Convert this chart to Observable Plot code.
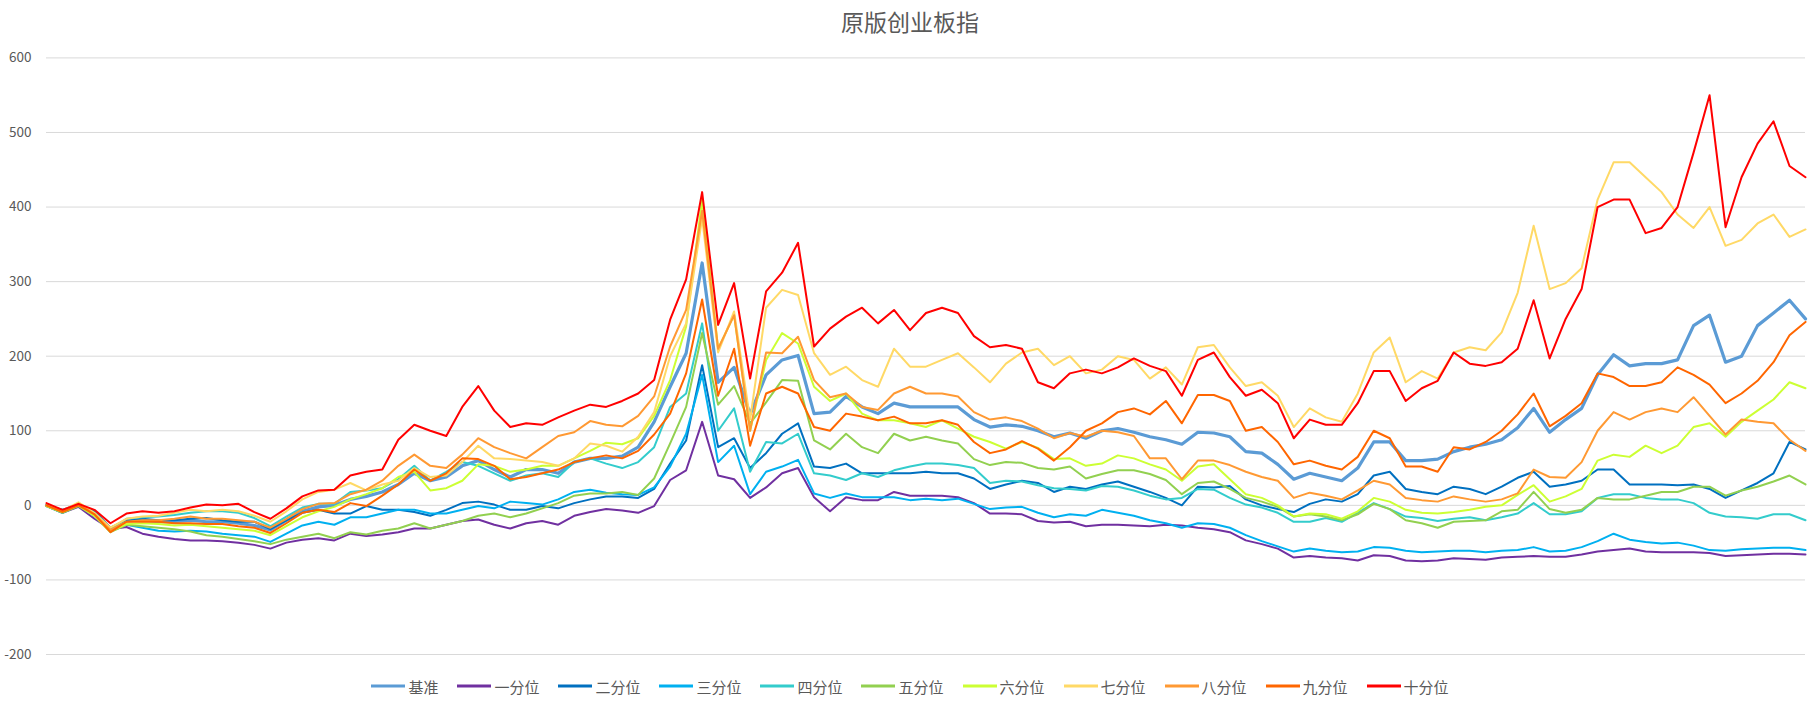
<!DOCTYPE html>
<html>
<head>
<meta charset="utf-8">
<script src="https://cdn.jsdelivr.net/npm/d3@7"></script>
<script src="https://cdn.jsdelivr.net/npm/@observablehq/plot@0.6"></script>
<style>
  html, body { margin: 0; padding: 0; background: #fff; }
  body { width: 1820px; height: 704px; overflow: hidden; font-family: "Noto Sans CJK SC", "Noto Sans", sans-serif; color: #595959; }
  #title { height: 40px; box-sizing: border-box; padding-top: 10px; font-size: 23px; line-height: 23px; text-align: center; }
  #legend { height: 24px; display: flex; justify-content: center; align-items: center; font-size: 15px; margin-top: 0px; }
  .item { display: flex; align-items: center; margin: 0 9.5px; }
  .item svg { margin-right: 3px; }
</style>
</head>
<body>
<div id="title">原版创业板指</div>
<div id="chart"></div>
<div id="legend"></div>
<script>
// Series names, colours and axis ticks
const seriesNames = ["基准", "一分位", "二分位", "三分位", "四分位", "五分位", "六分位", "七分位", "八分位", "九分位", "十分位"];
const seriesColors = ["#5B9BD5", "#7030A0", "#0070C0", "#00B0F0", "#33CCCC", "#92D050", "#CCFF33", "#FFD966", "#FF9933", "#FF6600", "#FF0000"];
const yTicks = [-200, -100, 0, 100, 200, 300, 400, 500, 600];

// Cumulative return (%) per sample step, one array per series
const benchmark = [0, -8, 1, -11, -33, -20, -20, -22, -22, -20, -22, -22, -24, -27, -33, -20, -8, -2,
  0, 8, 12, 18, 28, 43, 33, 38, 53, 60, 48, 38, 48, 48, 43, 58, 63, 63,
  66, 78, 112, 159, 204, 325, 165, 185, 122, 175, 195, 201, 123, 125, 146, 132, 123, 137, 132, 132, 132, 132,
  115, 105, 108, 106, 100, 92, 97, 90, 100, 103, 98, 92, 88, 82, 98, 97,
  92, 72, 70, 55, 35, 43, 38, 33, 50, 85, 85, 60, 60, 62, 72, 78, 82, 88, 104,
  130, 98, 115, 130, 175, 202, 187, 190, 190, 195, 241, 255, 192, 200, 241, 258, 275, 250];
const decile1 = [-1, -10, -2, -18, -32, -29, -38, -42, -45, -47, -47, -48, -50, -53, -58, -50, -46, -44,
  -47, -38, -41, -39, -36, -31, -31, -26, -21, -19, -26, -31, -24, -21, -26, -14, -9, -5,
  -7, -10, -1, 34, 47, 112, 40, 35, 10, 24, 43, 50, 11, -8, 11, 7, 7, 18, 13, 13, 13, 11,
  3, -11, -11, -12, -21, -23, -22, -28, -26, -26, -27, -28, -26, -27, -30, -32,
  -36, -47, -52, -58, -70, -68, -70, -71, -74, -67, -68, -74, -75, -74, -71, -72, -73, -70, -69,
  -68, -69, -69, -66, -62, -60, -58, -62, -63, -63, -63, -64, -68, -67, -66, -65, -65, -66];
const decile2 = [0, -6, 2, -8, -30, -20, -18, -20, -20, -18, -17, -20, -22, -22, -32, -20, -10, -6,
  -11, -11, -1, -6, -6, -9, -14, -6, 3, 5, 1, -6, -6, -1, -4, 3, 8, 12,
  12, 10, 22, 56, 87, 188, 78, 90, 50, 70, 96, 110, 52, 50, 56, 43, 43, 43, 43, 45, 43, 43,
  36, 22, 28, 33, 30, 18, 25, 22, 28, 32, 25, 18, 10, 0, 25, 24,
  26, 8, 0, -5, -9, 2, 8, 5, 15, 40, 45, 22, 18, 15, 25, 22, 15, 25, 37,
  45, 25, 28, 33, 48, 48, 28, 28, 28, 27, 28, 22, 10, 20, 30, 43, 85, 75];
const decile3 = [-1, -10, 0, -14, -34, -26, -30, -34, -35, -34, -35, -38, -40, -42, -49, -38, -27, -22,
  -26, -16, -16, -11, -6, -6, -11, -11, -6, -1, -4, 5, 3, 1, 8, 18, 21, 17,
  15, 14, 24, 52, 96, 175, 58, 80, 15, 45, 52, 61, 16, 10, 16, 11, 11, 11, 7, 9, 7, 9,
  2, -5, -3, -2, -10, -16, -12, -14, -6, -10, -14, -20, -24, -30, -24, -25,
  -30, -40, -48, -55, -62, -58, -61, -63, -62, -56, -57, -61, -63, -62, -61, -61, -63, -61, -60,
  -56, -62, -61, -56, -48, -38, -46, -49, -51, -50, -54, -60, -61, -59, -58, -57, -57, -60];
const decile4 = [0, -8, 1, -11, -32, -18, -16, -15, -13, -10, -8, -8, -10, -17, -28, -15, -3, 2,
  2, 18, 20, 23, 35, 53, 33, 45, 58, 53, 43, 33, 40, 43, 38, 58, 63, 56,
  50, 58, 78, 132, 150, 244, 100, 130, 45, 85, 83, 96, 43, 40, 34, 43, 38, 47, 52, 56, 56, 54,
  50, 30, 33, 32, 27, 23, 22, 20, 26, 25, 20, 13, 8, 10, 22, 21,
  10, 1, -3, -10, -22, -22, -17, -22, -10, 3, -5, -15, -17, -21, -18, -16, -20, -16, -11,
  3, -12, -12, -8, 10, 15, 15, 10, 8, 8, 3, -10, -15, -16, -18, -12, -12, -20];
const decile5 = [-1, -10, -1, -14, -36, -26, -28, -30, -32, -35, -40, -42, -45, -48, -52, -46, -42, -38,
  -44, -36, -39, -34, -31, -24, -31, -26, -21, -14, -11, -16, -11, -4, 3, 13, 16, 16,
  18, 14, 36, 83, 132, 231, 135, 160, 110, 138, 168, 167, 87, 75, 96, 78, 70, 96, 87, 92, 87, 83,
  62, 54, 58, 57, 50, 48, 52, 36, 42, 47, 47, 42, 34, 15, 30, 32,
  22, 10, 5, -2, -15, -12, -15, -20, -12, 2, -5, -20, -24, -30, -22, -21, -20, -8, -6,
  18, -5, -10, -6, 10, 8, 8, 13, 18, 18, 25, 25, 13, 20, 25, 32, 40, 28];
const decile6 = [-1, -9, 0, -14, -35, -25, -24, -25, -27, -26, -28, -30, -32, -34, -40, -28, -16, -8,
  -2, 8, 15, 23, 38, 45, 20, 23, 33, 55, 53, 45, 48, 53, 53, 63, 73, 84,
  82, 90, 120, 168, 240, 410, 210, 255, 100, 195, 231, 217, 159, 140, 150, 123, 114, 114, 110, 105, 114, 103,
  92, 85, 76, 85, 77, 62, 63, 53, 56, 67, 63, 55, 48, 33, 52, 55,
  35, 15, 10, 0, -15, -11, -12, -18, -8, 10, 5, -6, -10, -11, -9, -6, -2, 0, 14,
  27, 5, 12, 22, 60, 68, 65, 80, 70, 80, 105, 110, 92, 112, 127, 142, 165, 157];
const decile7 = [0, -7, 4, -10, -30, -18, -15, -14, -10, -6, -8, -6, -8, -14, -22, -8, 8, 18,
  21, 30, 20, 28, 33, 50, 38, 40, 58, 80, 63, 62, 60, 58, 53, 63, 83, 80,
  72, 92, 125, 200, 244, 385, 205, 260, 115, 265, 289, 282, 204, 175, 186, 168, 159, 210, 186, 186, 195, 204,
  185, 165, 190, 205, 210, 188, 200, 177, 182, 200, 195, 170, 185, 162, 212, 215,
  185, 160, 165, 147, 105, 130, 118, 112, 150, 205, 225, 165, 180, 170, 205, 212, 208, 232, 285,
  375, 290, 298, 318, 410, 460, 460, 440, 420, 390, 372, 400, 348, 356, 378, 390, 360, 370];
const decile8 = [0, -8, 2, -12, -33, -22, -20, -20, -18, -15, -18, -18, -20, -22, -30, -18, -5, 2,
  3, 15, 21, 33, 53, 68, 53, 50, 68, 90, 78, 70, 63, 78, 93, 98, 113, 108,
  106, 120, 146, 213, 262, 395, 210, 255, 100, 205, 204, 226, 168, 145, 150, 132, 128, 150, 159, 150, 150, 146,
  125, 115, 118, 113, 103, 90, 97, 92, 100, 98, 93, 63, 63, 35, 60, 60,
  54, 45, 38, 33, 10, 17, 13, 8, 20, 33, 28, 10, 7, 5, 12, 8, 5, 8, 16,
  48, 38, 37, 58, 100, 125, 115, 125, 130, 125, 145, 120, 95, 115, 112, 110, 88, 73];
const decile9 = [0, -9, 0, -12, -36, -22, -22, -22, -24, -24, -25, -25, -28, -30, -37, -24, -10, -6,
  -9, 3, -1, 13, 28, 48, 33, 43, 63, 62, 53, 35, 38, 43, 48, 58, 63, 67,
  63, 73, 95, 123, 177, 276, 147, 210, 80, 150, 159, 150, 105, 100, 123, 119, 114, 119, 110, 110, 114, 108,
  85, 70, 75, 86, 76, 60, 78, 100, 110, 125, 130, 122, 140, 110, 148, 148,
  140, 100, 105, 85, 55, 60, 53, 48, 65, 100, 90, 52, 52, 45, 78, 75, 85, 100, 122,
  150, 106, 120, 137, 177, 172, 160, 160, 165, 185, 175, 162, 137, 150, 167, 192, 228, 246];
const decile10 = [3, -6, 2, -6, -24, -11, -8, -10, -8, -3, 1, 0, 2, -9, -18, -4, 12, 20,
  21, 40, 45, 48, 88, 108, 100, 93, 132, 160, 127, 105, 110, 108, 118, 127, 135, 132,
  140, 150, 168, 249, 303, 420, 242, 298, 170, 287, 312, 352, 213, 237, 253, 265, 244, 262, 235, 258, 265, 258,
  227, 212, 215, 210, 165, 157, 177, 182, 177, 185, 197, 187, 180, 147, 195, 205,
  172, 147, 155, 137, 90, 115, 108, 108, 137, 180, 180, 140, 157, 167, 205, 190, 187, 192, 210,
  275, 197, 250, 290, 400, 410, 410, 365, 372, 400, 473, 550, 373, 440, 485, 515, 455, 440];

const seriesValues = [benchmark, decile1, decile2, decile3, decile4, decile5, decile6, decile7, decile8, decile9, decile10];

// Long-format table: one row per series and step
const rows = seriesNames.flatMap((name, k) =>
  seriesValues[k].map((value, step) => ({series: name, step, value}))
);
const lastStep = d3.max(seriesValues, (v) => v.length - 1);

const lineMarks = seriesNames.map((name, k) =>
  Plot.line(rows.filter((r) => r.series === name), {
    x: "step",
    y: "value",
    stroke: seriesColors[k],
    strokeWidth: k === 0 ? 3.2 : 2,
    strokeLinejoin: "round",
    strokeLinecap: "round"
  })
);

const chart = Plot.plot({
  width: 1820,
  height: 634,
  marginLeft: 46,
  marginRight: 15,
  marginTop: 17.4,
  marginBottom: 20,
  style: {fontFamily: "'Noto Sans CJK SC', 'Noto Sans', sans-serif", color: "#595959", background: "#fff"},
  x: {domain: [0, lastStep], axis: null},
  y: {domain: [-200, 600], axis: null},
  marks: [
    Plot.ruleY(yTicks, {stroke: "#D9D9D9", strokeWidth: 1}),
    Plot.axisY({ticks: yTicks, tickSize: 0, tickPadding: 15, fontSize: 13.5, tickFormat: (d) => String(d), label: null}),
    ...lineMarks
  ]
});
document.getElementById("chart").appendChild(chart);

// Legend row under the plot
const legend = document.getElementById("legend");
seriesNames.forEach((name, k) => {
  const item = document.createElement("div");
  item.className = "item";
  item.innerHTML = `<svg width="34" height="6"><line x1="0" y1="3" x2="34" y2="3" stroke="${seriesColors[k]}" stroke-width="3.2"/></svg><span>${name}</span>`;
  legend.appendChild(item);
});
</script>
</body>
</html>
